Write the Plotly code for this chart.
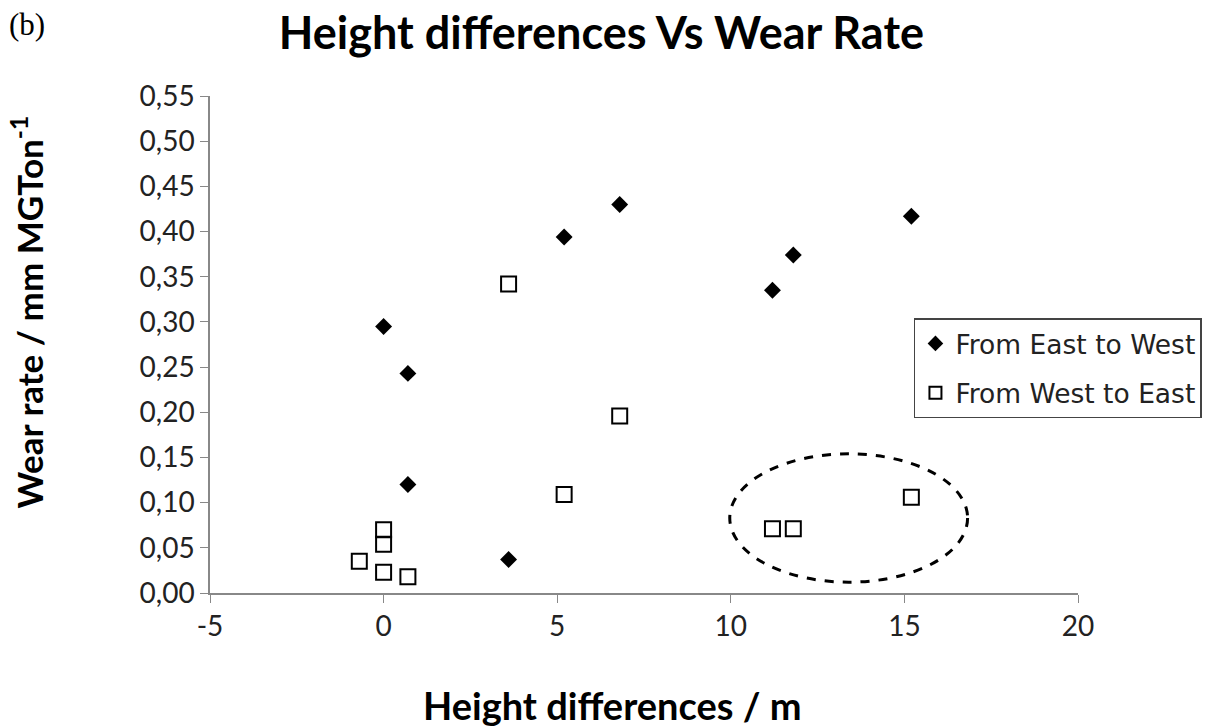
import plotly.graph_objects as go

# Data
ew_x = [0.0, 0.7, 0.7, 3.6, 5.2, 6.8, 11.2, 11.8, 15.2]
ew_y = [0.295, 0.243, 0.120, 0.037, 0.394, 0.430, 0.335, 0.374, 0.417]
we_x = [-0.7, 0.0, 0.0, 0.0, 0.7, 3.6, 5.2, 6.8, 11.2, 11.8, 15.2]
we_y = [0.035, 0.070, 0.054, 0.023, 0.018, 0.342, 0.109, 0.196, 0.071, 0.071, 0.106]
ellipse_x = [9.97, 16.82]
ellipse_y = [0.012, 0.154]
x_tick_vals = [-5, 0, 5, 10, 15, 20]
x_tick_text = ["-5", "0", "5", "10", "15", "20"]

FONT = "Lato"

fig = go.Figure()
fig.add_trace(go.Scatter(x=ew_x, y=ew_y, mode="markers", name="From East to West",
                         legendgroup="a",
                         marker=dict(symbol="diamond", size=13, color="black")))
fig.add_trace(go.Scatter(x=we_x, y=we_y, mode="markers", name="From West to East",
                         legendgroup="b",
                         marker=dict(symbol="square-open", size=15, color="black",
                                     line=dict(width=2, color="#222"))))

fig.add_shape(type="circle", xref="x", yref="y",
              x0=ellipse_x[0], x1=ellipse_x[1], y0=ellipse_y[0], y1=ellipse_y[1],
              line=dict(color="black", width=3, dash="dash"))

fig.add_annotation(text="(b)", xref="paper", yref="paper", x=-0.234, y=1.143,
                   xanchor="left", yanchor="middle", showarrow=False,
                   font=dict(family="Liberation Serif", size=31, color="black"))

fig.add_annotation(text="<b>Wear rate / mm MGTon<sup>-1</sup></b>", textangle=-90,
                   xref="paper", yref="paper", x=-0.211, y=0.566,
                   xanchor="center", yanchor="middle", showarrow=False,
                   font=dict(family=FONT, size=35, color="black"))

fig.add_annotation(text="<b>Height differences / m</b>",
                   xref="paper", yref="paper", x=(612 - 210) / 868, y=-0.175,
                   xanchor="center", yanchor="top", showarrow=False,
                   font=dict(family=FONT, size=38, color="black"))

fig.update_layout(
    width=1221, height=728,
    margin=dict(l=202, r=151, t=88, b=143),
    paper_bgcolor="white", plot_bgcolor="white",
    separators=",.",
    title=dict(text="<b>Height differences Vs Wear Rate</b>", xref="container",
               x=0.486, xanchor="center", y=0.966, yanchor="middle",
               font=dict(family=FONT, size=45, color="black")),
    font=dict(family=FONT, color="#111"),
    legend=dict(x=0.811, y=0.553, xanchor="left", yanchor="top",
                bordercolor="#444", borderwidth=1.5, bgcolor="white",
                font=dict(family="DejaVu Sans", size=26.5, color="#222"),
                tracegroupgap=12, itemsizing="constant"),
    xaxis=dict(range=[-5, 20], tickmode="array", tickvals=x_tick_vals, ticktext=x_tick_text,
               showgrid=False, zeroline=False,
               showline=True, linecolor="#888", linewidth=1.5,
               ticks="outside", ticklen=8, tickcolor="#888",
               tickfont=dict(family=FONT, size=28, color="#222")),
    yaxis=dict(range=[0, 0.55], dtick=0.05, tick0=0, tickformat=".2f",
               showgrid=False, zeroline=False,
               showline=True, linecolor="#888", linewidth=1.5,
               ticks="outside", ticklen=8, tickcolor="#888",
               tickfont=dict(family=FONT, size=28, color="#222")),
)

fig.write_html("out.html")
